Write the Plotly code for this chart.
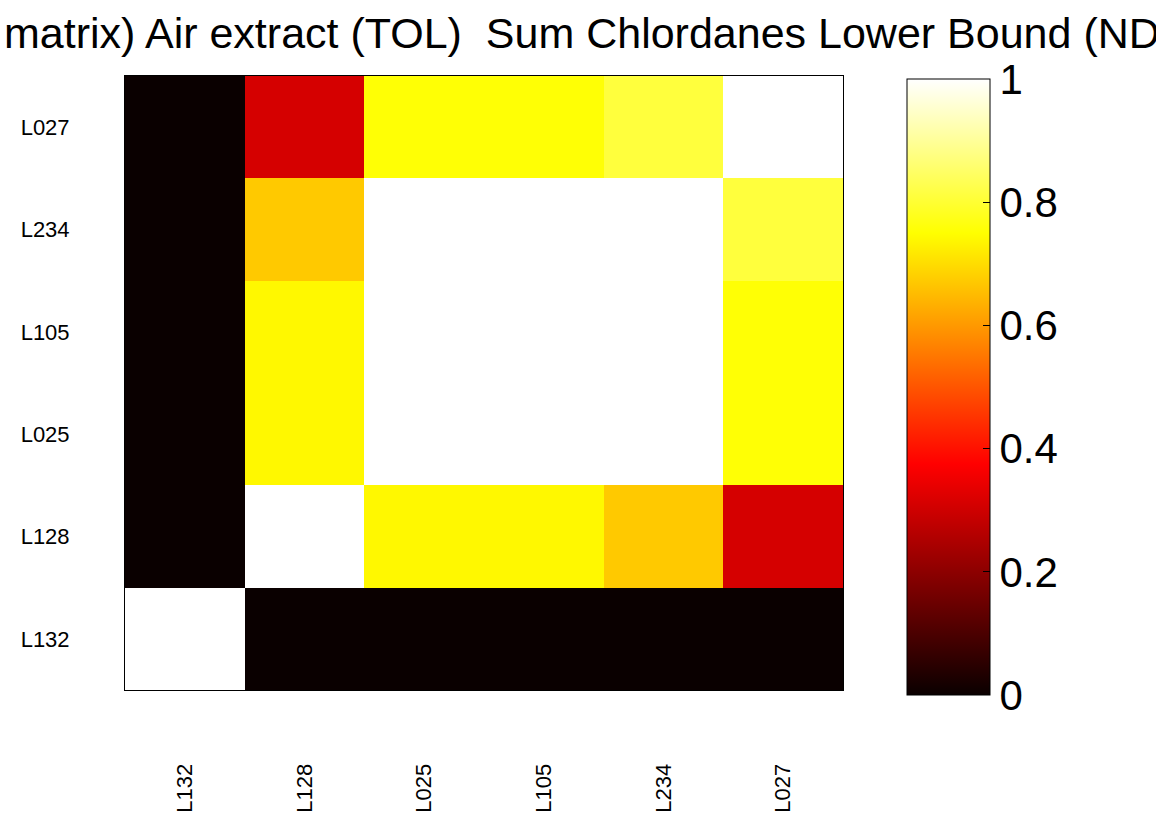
import plotly.graph_objects as go

labels = ["L132", "L128", "L025", "L105", "L234", "L027"]

# rows listed bottom (L132) to top (L027); columns follow `labels`
row_L132 = [1.00, 0.00, 0.00, 0.00, 0.00, 0.00]
row_L128 = [0.00, 1.00, 0.74, 0.74, 0.67, 0.31]
row_L025 = [0.00, 0.74, 1.00, 1.00, 1.00, 0.755]
row_L105 = [0.00, 0.74, 1.00, 1.00, 1.00, 0.755]
row_L234 = [0.00, 0.67, 1.00, 1.00, 1.00, 0.81]
row_L027 = [0.00, 0.31, 0.755, 0.755, 0.81, 1.00]

z = [row_L132, row_L128, row_L025, row_L105, row_L234, row_L027]

title_text = "matrix) Air extract (TOL)\u00a0\u00a0Sum Chlordanes Lower Bound (ND"
cbar_ticks = [0, 0.2, 0.4, 0.6, 0.8, 1]

hot = [
    [0.0, "rgb(10,0,0)"],
    [0.375, "rgb(255,0,0)"],
    [0.75, "rgb(255,255,0)"],
    [1.0, "rgb(255,255,255)"],
]

W, H = 1156, 817
L, R, T, B = 125, 313, 76, 127
plot_w = W - L - R
plot_h = H - T - B

CB_LEFT, CB_THICK, CB_TOP, CB_BOTTOM = 907, 83, 79, 695
cb_len = CB_BOTTOM - CB_TOP


def px_x(px):
    return (px - L) / plot_w


def px_y(px):
    return (H - B - px) / plot_h


fig = go.Figure(
    go.Heatmap(
        x=labels,
        y=labels,
        z=z,
        zmin=0,
        zmax=1,
        colorscale=hot,
        colorbar=dict(
            x=px_x(CB_LEFT),
            xanchor="left",
            xref="paper",
            y=px_y((CB_TOP + CB_BOTTOM) / 2),
            yanchor="middle",
            len=cb_len,
            lenmode="pixels",
            thickness=CB_THICK,
            thicknessmode="pixels",
            outlinecolor="black",
            outlinewidth=1,
            tickvals=cbar_ticks,
            ticktext=[("%g" % v) for v in cbar_ticks],
            ticks="inside",
            ticklen=7,
            tickcolor="black",
            tickfont=dict(family="Liberation Sans, Arial", size=42, color="black"),
            xpad=0,
            ypad=0,
        ),
    )
)

# tick marks on the left edge of the colorbar (mirror of the inside ticks)
for v in cbar_ticks[1:-1]:
    yy = px_y(CB_BOTTOM - v * cb_len)
    fig.add_shape(
        type="line",
        xref="paper",
        yref="paper",
        x0=px_x(CB_LEFT),
        x1=px_x(CB_LEFT + 7),
        y0=yy,
        y1=yy,
        line=dict(color="black", width=1),
    )

fig.update_xaxes(
    type="category",
    tickangle=-90,
    ticks="",
    showline=True,
    linecolor="black",
    linewidth=1,
    mirror=True,
    showgrid=False,
    zeroline=False,
    ticklabelstandoff=64,
    tickfont=dict(family="Liberation Sans, Arial", size=22, color="black"),
)
fig.update_yaxes(
    type="category",
    ticks="",
    showline=True,
    linecolor="black",
    linewidth=1,
    mirror=True,
    showgrid=False,
    zeroline=False,
    ticklabelstandoff=50,
    tickfont=dict(family="Liberation Sans, Arial", size=22, color="black"),
)

fig.add_annotation(
    text=title_text,
    xref="paper",
    yref="paper",
    x=px_x(2),
    xanchor="left",
    y=px_y(33),
    yanchor="middle",
    showarrow=False,
    font=dict(family="Liberation Sans, Arial", size=43, color="black"),
)

fig.update_layout(
    width=W,
    height=H,
    margin=dict(l=L, r=R, t=T, b=B, autoexpand=False),
    plot_bgcolor="white",
    paper_bgcolor="white",
    showlegend=False,
)

fig.write_html(
    "out.html",
    config={"displayModeBar": False},
    post_script="document.body.style.margin='0';document.body.style.overflow='hidden';",
)
